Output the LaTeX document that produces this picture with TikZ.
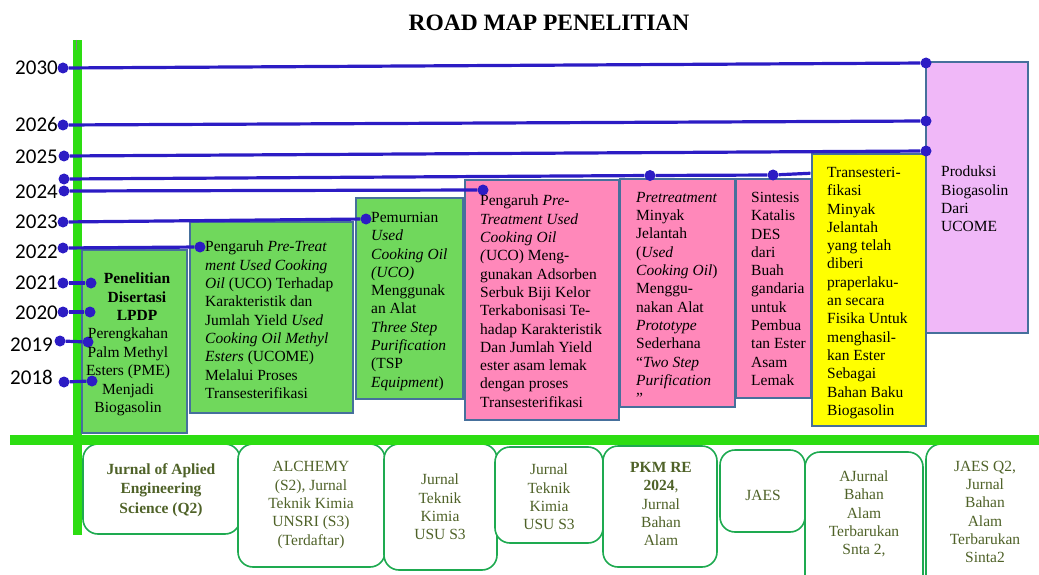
\documentclass[tikz,border=0pt]{standalone}
\usepackage{fontspec}
\setmainfont{Liberation Serif}
\newfontfamily\yearfont{Carlito}

\definecolor{bargreen}{RGB}{45,221,18}
\definecolor{boxgreen}{RGB}{112,216,92}
\definecolor{boxpink}{RGB}{255,136,186}
\definecolor{boxyellow}{RGB}{255,255,0}
\definecolor{boxlilac}{RGB}{240,184,248}
\definecolor{boxline}{RGB}{70,112,156}
\definecolor{dotblue}{RGB}{44,28,196}
\definecolor{jgreen}{RGB}{30,170,80}
\definecolor{jtext}{RGB}{79,98,40}

\begin{document}
\begin{tikzpicture}[x=1pt, y=-1pt,
  year/.style = {font=\yearfont\fontsize{21}{24}\selectfont, anchor=east, inner sep=0pt},
  dot/.style  = {circle, fill=dotblue, inner sep=0pt, minimum size=11pt},
  link/.style = {dotblue, line width=3.2pt},
  tbox/.style = {draw=boxline, line width=1.5pt},
  ttxt/.style = {font=\fontsize{15.5}{18.3}\selectfont, align=left, anchor=north west, inner sep=0pt},
  jbox/.style = {draw=jgreen, line width=1.6pt, rounded corners=15pt, fill=white},
  jtxt/.style = {font=\fontsize{15.5}{18.3}\selectfont, text=jtext, align=center, inner sep=0pt}]

  \useasboundingbox (0,0) rectangle (1039,575);
  \clip (0,0) rectangle (1039,575);

  % Judul
  \node[font=\fontsize{23.5}{27}\selectfont\bfseries] (title) at (549,23) {ROAD MAP PENELITIAN};

  % Sumbu waktu (batang hijau)
  \fill[bargreen] (73,40) rectangle (82,535);
  \draw[gray, line width=1pt] (76,40) -- (76,50);

  % Label tahun
  \node[year] (y2030) at (58,68) {2030};
  \node[year] (y2026) at (58,124) {2026};
  \node[year] (y2025) at (58,157) {2025};
  \node[year] (y2024) at (58,192) {2024};
  \node[year] (y2023) at (58,222) {2023};
  \node[year] (y2022) at (58,252) {2022};
  \node[year] (y2021) at (58,283) {2021};
  \node[year] (y2020) at (58,313) {2020};
  \node[year] (y2019) at (53,345) {2019};
  \node[year] (y2018) at (53,377) {2018};

  % Kotak penelitian
  \draw[tbox, fill=boxgreen] (82,250) rectangle (187,433);
  \draw[tbox, fill=boxgreen] (190,222) rectangle (353,413);
  \draw[tbox, fill=boxgreen] (356,198) rectangle (463,399);
  \draw[tbox, fill=boxpink] (465,180) rectangle (619,420);
  \draw[tbox, fill=boxpink] (620,179) rectangle (735,407);
  \draw[tbox, fill=boxpink] (736,179) rectangle (811,398);

  % Garis 2024 atas (di belakang kotak kuning)
  \node[dot] (u0) at (64,179) {};
  \node[dot] (u1) at (650,175.5) {};
  \node[dot] (u2) at (773,175) {};
  \node[dot] (u3) at (816,173) {};
  \draw[link] (u0) -- (u1) -- (u2) -- (u3);

  \draw[tbox, fill=boxyellow] (812,154) rectangle (926,426);
  \draw[tbox, fill=boxlilac] (926,62) rectangle (1028,333);

  % Titik dan garis tahun
  \node[dot] (a30) at (63,68) {};   \node[dot] (b30) at (926,63) {};
  \node[dot] (a26) at (63,125) {};  \node[dot] (b26) at (926,121) {};
  \node[dot] (a25) at (64,156) {};  \node[dot] (b25) at (926,151) {};
  \node[dot] (a24) at (64,191) {};  \node[dot] (b24) at (483,190) {};
  \node[dot] (a23) at (63,222) {};  \node[dot] (b23) at (366,219) {};
  \node[dot] (a22) at (63,248) {};  \node[dot] (b22) at (200,247) {};
  \node[dot] (a21) at (63,283) {};  \node[dot] (b21) at (91,283) {};
  \node[dot] (a20) at (63,312) {};  \node[dot] (b20) at (90,312) {};
  \node[dot] (a19) at (60,341) {};  \node[dot] (b19) at (88,342) {};
  \node[dot] (a18) at (64,382) {};  \node[dot] (b18) at (92,381) {};
  \foreach \yr in {30,26,25,24,23,22,21,20,19,18}
    \draw[link] (a\yr) -- (b\yr);

  % Teks kotak
  \node[ttxt, align=center, anchor=north, font=\fontsize{15.5}{18.5}\selectfont\bfseries] (t1) at (137,273)
    {Penelitian\\ Disertasi\\ LPDP};
  \node[ttxt, align=center, anchor=north, font=\fontsize{15.5}{18.5}\selectfont] (t1b) at (128,328)
    {Perengkahan\\ Palm Methyl\\ Esters (PME)\\ Menjadi\\ Biogasolin};
  \node[ttxt] (t2) at (205,241)
    {Pengaruh \textit{Pre-Treat}\\ \textit{ment Used Cooking}\\ \textit{Oil} (UCO) Terhadap\\ Karakteristik dan\\ Jumlah Yield \textit{Used}\\ \textit{Cooking Oil Methyl}\\ \textit{Esters} (UCOME)\\ Melalui Proses\\ Transesterifikasi};
  \node[ttxt] (t3) at (371,212)
    {Pemurnian\\ \textit{Used}\\ \textit{Cooking Oil}\\ \textit{(UCO)}\\ Menggunak\\ an Alat\\ \textit{Three Step}\\ \textit{Purification}\\ (TSP\\ \textit{Equipment})};
  \node[ttxt] (t4) at (480,195)
    {Pengaruh \textit{Pre-}\\ \textit{Treatment Used}\\ \textit{Cooking Oil}\\ \textit{(}UCO) Meng-\\ gunakan Adsorben\\ Serbuk Biji Kelor\\ Terkabonisasi Te-\\ hadap Karakteristik\\ Dan Jumlah Yield\\ ester asam lemak\\ dengan proses\\ Transesterifikasi};
  \node[ttxt] (t5) at (636,192)
    {\textit{Pretreatment}\\ Minyak\\ Jelantah\\ (\textit{Used}\\ \textit{Cooking Oil})\\ Menggu-\\ nakan Alat\\ \textit{Prototype}\\ Sederhana\\ “\textit{Two Step}\\ \textit{Purification}\\ ”};
  \node[ttxt] (t6) at (751,192)
    {Sintesis\\ Katalis\\ DES\\ dari\\ Buah\\ gandaria\\ untuk\\ Pembua\\ tan Ester\\ Asam\\ Lemak};
  \node[ttxt] (t7) at (827,167)
    {Transesteri-\\ fikasi\\ Minyak\\ Jelantah\\ yang telah\\ diberi\\ praperlaku-\\ an secara\\ Fisika Untuk\\ menghasil-\\ kan Ester\\ Sebagai\\ Bahan Baku\\ Biogasolin};
  \node[ttxt] (t8) at (941,166)
    {Produksi\\ Biogasolin\\ Dari\\ UCOME};

  % Kotak jurnal
  \draw[jbox] (83,444) rectangle (240,534);
  \draw[jbox] (238,444) rectangle (385,567);
  \draw[jbox] (384,444) rectangle (497,570);
  \draw[jbox] (495,447) rectangle (603,543);
  \draw[jbox] (603,446) rectangle (717,567);
  \draw[jbox] (720,450) rectangle (805,532);
  \draw[jbox] (805,452) rectangle (923,590);
  \draw[jbox] (926,444) rectangle (1060,600);

  % Sumbu horizontal
  \fill[bargreen] (10,435) rectangle (1039,445);

  % Teks jurnal
  \node[jtxt, font=\fontsize{15.5}{19.5}\selectfont\bfseries] (j1) at (161,490)
    {Jurnal of Aplied\\ Engineering\\ Science (Q2)};
  \node[jtxt] (j2) at (311,505) {ALCHEMY\\ (S2), Jurnal\\ Teknik Kimia\\ UNSRI (S3)\\ (Terdaftar)};
  \node[jtxt] (j3) at (440,507) {Jurnal\\ Teknik\\ Kimia\\ USU S3};
  \node[jtxt] (j4) at (549,497) {Jurnal\\ Teknik\\ Kimia\\ USU S3};
  \node[jtxt] (j5) at (661,504) {\textbf{PKM RE}\\ \textbf{2024},\\ Jurnal\\ Bahan\\ Alam};
  \node[jtxt] (j6) at (763,495) {JAES};
  \node[jtxt] (j7) at (864,514) {AJurnal\\ Bahan\\ Alam\\ Terbarukan\\ Snta 2,};
  \node[jtxt] (j8) at (985,512) {JAES Q2,\\ Jurnal\\ Bahan\\ Alam\\ Terbarukan\\ Sinta2};
\end{tikzpicture}
\end{document}
